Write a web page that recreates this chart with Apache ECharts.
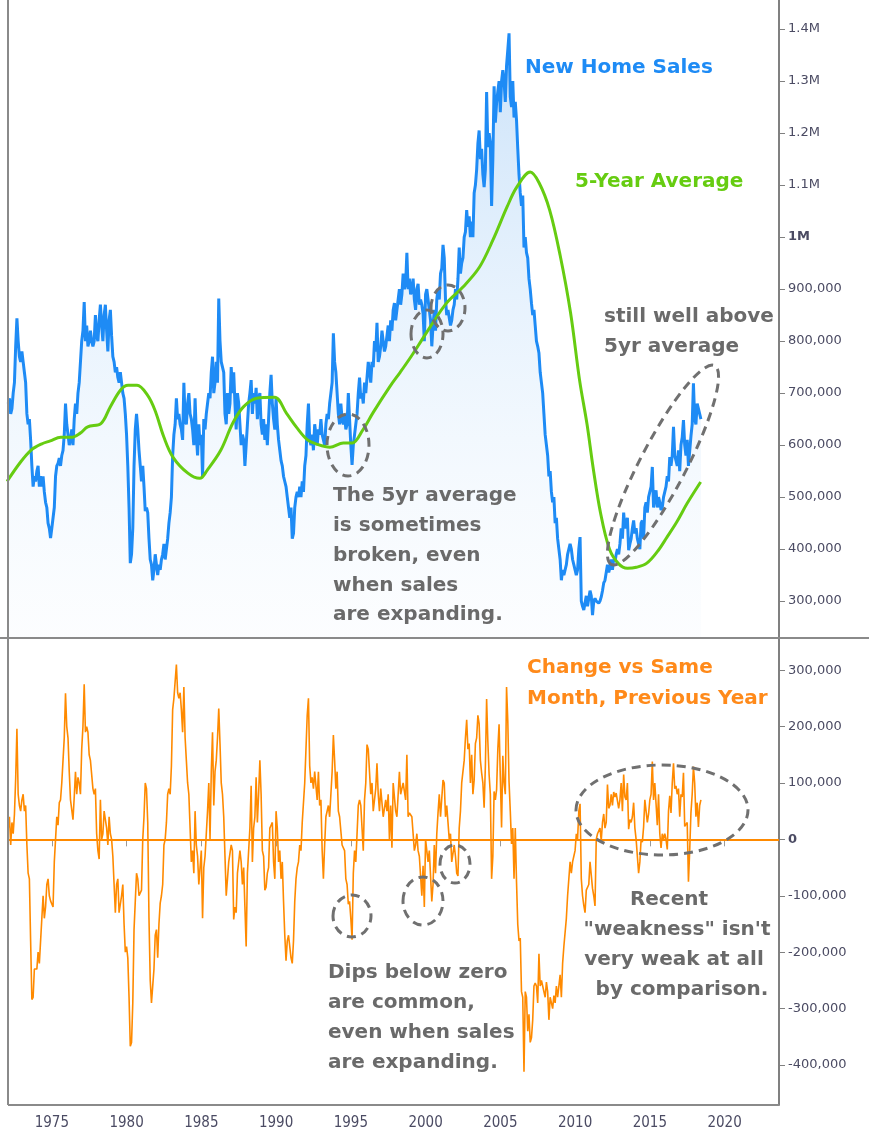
<!DOCTYPE html>
<html><head><meta charset="utf-8">
<script src="https://cdn.jsdelivr.net/npm/echarts@6/dist/echarts.min.js"></script>
<style>html,body{margin:0;padding:0;background:#fff}#c{width:869px;height:1135px}</style>
</head><body><div id="c"></div>
<script>
// ---------- DATA ----------
const startYear = 1972; // monthly, from Jan 1972
// New home sales, thousands (SAAR)
const newHomeSales = [
 680,690,660,670,700,720,790,844,800,770,760,780,
 760,740,720,660,640,650,610,560,520,540,530,550,
 560,520,540,520,540,510,490,480,450,440,421,440,
 440,480,540,560,565,575,560,580,590,620,680,640,
 620,600,610,630,600,650,680,660,700,720,760,800,
 820,875,800,830,790,800,820,800,790,800,850,810,
 800,840,870,830,800,850,870,820,780,840,860,810,
 770,760,740,750,730,720,740,720,700,690,660,620,
 560,480,373,390,440,560,630,660,630,590,560,530,
 560,520,473,480,470,420,380,370,340,360,390,370,
 350,370,360,380,390,410,380,400,420,450,470,500,
 580,620,640,690,650,660,640,630,610,720,650,640,
 680,700,660,650,630,600,690,620,580,640,600,620,
 540,650,630,660,680,700,690,740,770,700,720,760,
 720,882,800,760,760,740,660,640,700,660,680,750,
 700,740,680,630,700,680,640,600,620,610,560,560,
 640,680,700,725,660,700,680,710,650,690,700,640,
 620,650,610,640,600,650,700,735,680,650,630,690,
 640,610,590,570,560,540,530,520,500,480,460,480,
 420,430,480,500,510,500,520,500,530,510,560,580,
 640,680,610,600,620,590,640,620,600,630,620,650,
 620,610,600,640,660,650,680,700,720,815,760,740,
 740,660,640,680,650,640,660,630,640,700,650,600,
 562,600,620,640,660,700,730,690,700,680,720,700,
 730,760,740,720,760,750,800,780,835,760,770,790,
 820,800,780,790,810,830,800,840,820,860,873,840,
 860,880,900,870,890,930,900,910,970,900,920,890,
 900,920,880,860,900,910,870,880,870,853,800,890,
 900,880,860,840,790,830,860,820,880,900,880,930,
 940,985,960,880,850,860,860,830,840,860,870,900,
 880,920,980,930,950,960,1000,1010,1052,1020,1040,1000,
 1030,1000,1085,1100,1130,1180,1205,1150,1170,1120,1096,1130,
 1279,1173,1200,1180,1060,1150,1290,1220,1258,1280,1300,1240,
 1300,1321,1300,1260,1330,1360,1392,1270,1250,1300,1230,1260,
 1225,1170,1120,1085,1060,1080,980,1000,970,960,920,900,
 873,850,860,830,800,790,777,740,720,700,660,620,
 620,580,540,550,510,490,500,450,460,420,400,380,
 340,360,350,360,370,390,400,410,400,380,370,360,
 350,360,400,423,300,290,283,280,310,290,290,320,
 310,273,300,305,300,300,296,300,308,320,335,340,
 340,370,355,365,380,360,380,375,390,400,390,410,
 440,420,470,440,450,460,398,410,420,440,455,430,
 440,420,410,400,450,455,420,480,490,470,500,500,
 520,558,480,500,513,480,500,490,475,480,500,510,
 520,540,530,577,560,580,635,580,570,560,590,550,
 600,615,648,600,580,610,560,560,617,640,719,650,
 640,680,670,660,650
];
// Change vs same month previous year, thousands
const changeVsYearAgo = [
 20,40,-10,30,10,44,108,196,80,60,50,70,
 80,50,60,-10,-60,-70,-180,-284,-280,-230,-230,-230,
 -200,-220,-180,-140,-100,-140,-120,-80,-70,-100,-109,-110,
 -120,-40,0,40,25,65,70,100,140,180,259,200,
 180,120,70,70,35,75,120,80,110,100,80,160,
 200,275,190,200,190,150,140,140,90,80,90,10,
 -20,-35,70,0,10,50,50,20,-10,40,10,0,
 -30,-80,-130,-80,-70,-130,-130,-100,-80,-150,-200,-190,
 -210,-280,-367,-360,-290,-160,-110,-60,-70,-100,-100,-90,
 0,40,100,90,30,-140,-250,-290,-290,-230,-170,-160,
 -210,-150,-113,-100,-80,-10,0,30,80,90,80,130,
 230,250,280,310,260,250,260,230,190,270,180,140,
 100,80,20,-40,-20,-60,50,-10,-30,-80,-50,-20,
 -140,-50,-30,10,50,100,0,120,190,60,120,140,
 180,232,170,100,80,40,-30,-100,-70,-40,-40,-10,
 -20,-142,-120,-130,-60,-60,-20,-40,-80,-50,-120,-190,
 -60,-60,20,95,-40,20,40,110,30,80,140,80,
 -20,-30,-90,-85,-60,-50,20,25,30,-40,-70,50,
 20,-40,-20,-70,-40,-110,-170,-215,-180,-170,-170,-210,
 -220,-180,-110,-70,-50,-40,-10,-20,30,30,100,100,
 220,250,130,100,110,90,120,120,70,120,60,70,
 -20,-70,-10,40,40,60,40,80,120,185,140,90,
 120,50,40,40,-10,-10,-20,-70,-80,-115,-110,-140,
 -178,-60,-20,-40,10,60,70,60,60,-20,70,100,
 168,160,120,80,100,50,70,90,135,80,50,90,
 90,40,40,70,50,80,0,60,-15,100,103,50,
 40,80,120,80,80,100,100,70,150,40,47,50,
 40,40,-20,-10,10,-20,-30,-30,-100,-47,-120,0,
 0,-40,-20,-20,-110,-80,-10,-60,10,47,80,40,
 40,105,100,40,60,30,0,10,-40,-40,-10,-30,
 -60,-65,20,50,100,100,140,180,212,160,170,100,
 150,80,105,170,180,220,205,140,118,100,56,130,
 249,173,115,80,-70,-30,85,70,88,160,204,110,
 21,148,100,80,270,210,102,50,-8,20,-70,20,
 -75,-151,-180,-175,-270,-280,-412,-270,-280,-340,-310,-360,
 -352,-320,-260,-255,-260,-290,-203,-260,-250,-260,-260,-280,
 -253,-270,-320,-280,-290,-300,-277,-290,-260,-280,-260,-240,
 -280,-220,-190,-190,-140,-100,-100,-40,-60,-40,-30,-20,
 10,0,50,63,-70,-100,-117,-130,-90,-90,-80,-40,
 -40,-87,-100,-118,0,10,13,20,-2,30,45,20,
 30,97,55,60,80,60,84,75,82,80,55,70,
 100,50,115,75,70,100,18,35,30,40,65,20,
 0,0,-60,-40,0,-5,22,70,70,30,45,70,
 80,138,70,100,63,25,80,10,-15,10,0,10,
 0,-18,50,77,47,100,135,90,95,80,90,40,
 80,75,118,23,20,30,-75,-20,47,80,129,100,
 40,65,22,60,70
];
// 5-year average (read at points along the smooth curve), thousands
const avgYears = [1972.0,1972.9,1973.6,1974.3,1974.9,1975.6,1976.3,1976.9,1977.4,1978.3,1978.9,1979.6,1980.1,1980.7,1981.4,1981.9,1982.5,1983.1,1984.1,1984.9,1985.4,1986.3,1987.1,1987.8,1988.7,1989.9,1990.7,1991.4,1992.1,1992.7,1993.6,1994.5,1995.1,1995.8,1996.5,1997.6,1998.3,1999.0,1999.7,2000.3,2001.4,2002.5,2003.6,2004.5,2005.45,2006.1,2007.0,2007.6,2008.3,2009.0,2009.7,2010.3,2010.8,2011.2,2011.7,2012.3,2012.9,2013.5,2014.1,2014.8,2015.5,2016.15,2016.8,2017.5,2018.4];
const avgValues = [530,567,590,602,608,615,615,623,635,642,673,706,715,715,696,667,615,577,546,536,552,590,642,673,690,692,661,633,610,602,596,604,604,629,663,712,740,769,800,827,873,904,942,994,1058,1096,1125,1104,1052,965,854,725,640,558,470,400,372,363,365,373,395,423,452,488,529];

const yearTicks = [1975,1980,1985,1990,1995,2000,2005,2010,2015,2020];
const salesTicks = [300000,400000,500000,600000,700000,800000,900000,1000000,1100000,1200000,1300000,1400000];
const changeTicks = [-400000,-300000,-200000,-100000,0,100000,200000,300000];

// ---------- BUILD ----------
const toT = i => startYear + (i + 1) / 12;
const salesData = newHomeSales.map((v, i) => [toT(i), v * 1000]);
const changeData = changeVsYearAgo.map((v, i) => [toT(i), v * 1000]);
const avgData = avgYears.map((y, i) => [y, avgValues[i] * 1000]);

const X_MIN = 1972.07, X_MAX = 2023.64;
const labelColor = '#4b4b63';
const gridL = 8, gridR = 90;

function fmtSales(v) {
  if (v >= 1000000) {
    const s = (Math.round(v / 100000) / 10) + 'M';
    return v === 1000000 ? '{b|' + s + '}' : s;
  }
  return v.toLocaleString('en-US');
}
function fmtChange(v) {
  if (v === 0) return '{b|0}';
  return v.toLocaleString('en-US');
}

const chart = echarts.init(document.getElementById('c'), null, {renderer: 'canvas'});
const annoFont = 'bold 20px "DejaVu Sans"';
const grey = '#6a6a6a';
function txt(text, x, y, color, align) {
  return {type: 'text', z: 100, style: {text, x, y, font: annoFont, fill: color, textAlign: align || 'left', textVerticalAlign: 'middle', align: align || 'left', verticalAlign: 'middle'}};
}
function ell(cx, cy, rx, ry, rot) {
  return {type: 'ellipse', z: 99, shape: {cx: 0, cy: 0, rx, ry}, x: cx, y: cy, rotation: rot || 0,
    style: {fill: 'none', stroke: '#707070', lineWidth: 3, lineDash: [9, 6]}};
}

const option = {
  animation: false,
  backgroundColor: '#ffffff',
  grid: [
    {left: gridL, right: gridR, top: 0, height: 638},
    {left: gridL, right: gridR, top: 638, height: 467}
  ],
  xAxis: [
    {type: 'value', gridIndex: 0, min: X_MIN, max: X_MAX, show: false},
    {type: 'value', gridIndex: 1, min: X_MIN, max: X_MAX,
     axisLine: {show: false}, splitLine: {show: false},
     axisTick: {show: true, customValues: yearTicks, length: 7, lineStyle: {color: '#999', width: 1}},
     axisLabel: {customValues: yearTicks, color: labelColor, fontFamily: '"DejaVu Sans Condensed", "DejaVu Sans"', fontSize: 15, margin: 11, formatter: v => String(v)}}
  ],
  yAxis: [
    {type: 'value', gridIndex: 0, position: 'right', min: 229000, max: 1456000,
     splitLine: {show: false},
     axisLine: {show: true, lineStyle: {color: '#808080', width: 2}},
     axisTick: {show: true, customValues: salesTicks, length: 6, lineStyle: {color: '#808080'}},
     axisLabel: {customValues: salesTicks, color: labelColor, fontFamily: '"DejaVu Sans"', fontSize: 13, margin: 9, formatter: fmtSales, rich: {b: {fontWeight: 'bold', color: labelColor, fontFamily: '"DejaVu Sans"', fontSize: 13}}}},
    {type: 'value', gridIndex: 1, position: 'right', min: -471000, max: 357000,
     splitLine: {show: false},
     axisLine: {show: true, lineStyle: {color: '#808080', width: 2}},
     axisTick: {show: true, customValues: changeTicks, length: 6, lineStyle: {color: '#808080'}},
     axisLabel: {customValues: changeTicks, color: labelColor, fontFamily: '"DejaVu Sans"', fontSize: 13, margin: 9, formatter: fmtChange, rich: {b: {fontWeight: 'bold', color: labelColor, fontFamily: '"DejaVu Sans"', fontSize: 13}}}}
  ],
  series: [
    {name: 'New Home Sales', type: 'line', xAxisIndex: 0, yAxisIndex: 0, data: salesData,
     showSymbol: false, symbol: 'none', z: 2,
     lineStyle: {color: '#1E8BF5', width: 3},
     areaStyle: {color: new echarts.graphic.LinearGradient(0, 0, 0, 1, [
       {offset: 0, color: 'rgba(120,180,240,0.55)'},
       {offset: 0.5, color: 'rgba(170,210,248,0.35)'},
       {offset: 1, color: 'rgba(225,238,252,0.15)'}])}},
    {name: '5-Year Average', type: 'line', xAxisIndex: 0, yAxisIndex: 0, data: avgData,
     showSymbol: false, symbol: 'none', smooth: 0.35, z: 3,
     lineStyle: {color: '#66CC11', width: 3}},
    {name: 'Change vs Same Month, Previous Year', type: 'line', xAxisIndex: 1, yAxisIndex: 1, data: changeData,
     showSymbol: false, symbol: 'none', z: 3,
     lineStyle: {color: '#FF8A00', width: 1.6},
     markLine: {silent: true, symbol: ['none', 'none'], label: {show: false},
       lineStyle: {color: '#FF8A00', width: 2, type: 'solid'}, data: [{yAxis: 0}]}}
  ],
  graphic: [
    {type: 'line', z: 50, shape: {x1: gridL, y1: 0, x2: gridL, y2: 1105}, style: {stroke: '#8a8a8a', lineWidth: 2}},
    {type: 'line', z: 50, shape: {x1: 0, y1: 638, x2: 869, y2: 638}, style: {stroke: '#8a8a8a', lineWidth: 2}},
    {type: 'line', z: 50, shape: {x1: gridL, y1: 1105, x2: 779, y2: 1105}, style: {stroke: '#8a8a8a', lineWidth: 2}},
    txt('New Home Sales', 525, 68, '#1E8BF5'),
    txt('5-Year Average', 575, 182, '#66CC11'),
    txt('still well above', 604, 317, grey),
    txt('5yr average', 604, 347, grey),
    txt('The 5yr average', 333, 496, grey),
    txt('is sometimes', 333, 526, grey),
    txt('broken, even', 333, 556, grey),
    txt('when sales', 333, 586, grey),
    txt('are expanding.', 333, 615, grey),
    txt('Change vs Same', 527, 668, '#FF8A1A'),
    txt('Month, Previous Year', 527, 699, '#FF8A1A'),
    txt('Dips below zero', 328, 973, grey),
    txt('are common,', 328, 1003, grey),
    txt('even when sales', 328, 1033, grey),
    txt('are expanding.', 328, 1063, grey),
    txt('Recent', 669, 900, grey, 'center'),
    txt('"weakness" isn\'t', 677, 930, grey, 'center'),
    txt('very weak at all', 674, 960, grey, 'center'),
    txt('by comparison.', 682, 990, grey, 'center'),
    ell(348, 445, 21, 31),
    ell(427, 334, 16, 24),
    ell(448, 308, 17, 23),
    ell(663, 465, 112, 23, 62.5 * Math.PI / 180),
    ell(352, 916, 19, 21),
    ell(423, 901, 20, 24),
    ell(455, 864, 15, 19),
    ell(662, 810, 86, 45)
  ]
};
chart.setOption(option);
</script></body></html>
